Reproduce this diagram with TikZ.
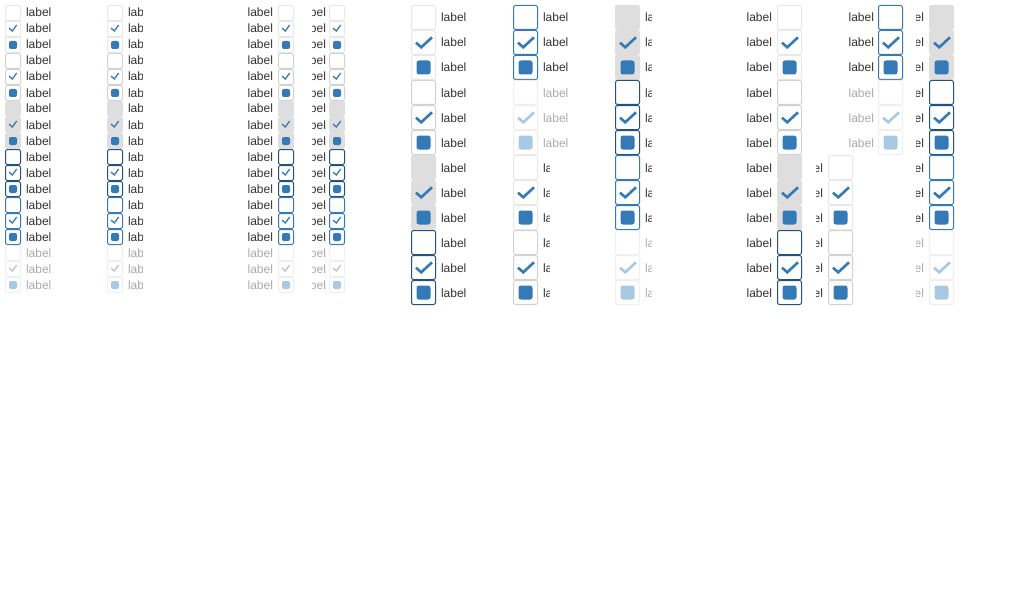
\documentclass[tikz,border=0pt]{standalone}
\usepackage{fontspec}
\setmainfont{Liberation Sans}
\definecolor{txt}{HTML}{333333}
\definecolor{txtdis}{HTML}{ABABAB}
\definecolor{bnorm}{HTML}{E8E8E8}
\definecolor{bhover}{HTML}{D2D2D2}
\definecolor{bact}{HTML}{DEDEDE}
\definecolor{bdark}{HTML}{23527C}
\definecolor{bblue}{HTML}{337AB7}
\definecolor{bdis}{HTML}{EFEFEF}
\definecolor{cblue}{HTML}{337AB7}
\definecolor{cdis}{HTML}{A9C9E3}
\def\bsl{24pt}\def\bss{15pt}
\newcommand\CB[6]{%
  \if x#5\colorlet{mcol}{cdis}\else\colorlet{mcol}{cblue}\fi
  \node[bx,st-#5,minimum size=\csname bs#2\endcsname] (#1) at (#3,#4) {};
  \if c#6\csname chk#2\endcsname{#1}\fi
  \if i#6\csname ind#2\endcsname{#1}\fi}
\newcommand\chkl[1]{\draw[mcol,line width=2.6pt] ([shift={(-7.5,0.2)}]#1.center) -- ([shift={(-2.2,4.8)}]#1.center) -- ([shift={(8.5,-5.2)}]#1.center);}
\newcommand\chks[1]{\draw[mcol,line width=1.3pt] ([shift={(-4,-1)}]#1.center) -- ([shift={(-0.7,2)}]#1.center) -- ([shift={(3.7,-4)}]#1.center);}
\newcommand\indl[1]{\node[fill=mcol,rounded corners=2.5pt,minimum size=14pt,inner sep=0pt,outer sep=0pt] (#1m) at (#1.center) {};}
\newcommand\inds[1]{\node[fill=mcol,rounded corners=2pt,minimum size=8pt,inner sep=0pt,outer sep=0pt] (#1m) at (#1.center) {};}
\newcommand\LB[5]{\node[lbl-#5,anchor=#2] (#1) at (#3,#4) {label};}
\newcommand\LBc[7]{\begin{scope}\clip ({#6},{#4-20}) rectangle ({#7},{#4+10});\node[lbl-#5,anchor=#2] (#1) at (#3,#4) {label};\end{scope}}
\begin{document}
\begin{tikzpicture}[x=1pt,y=-1pt,
  bx/.style={rectangle,rounded corners=2pt,line width=1pt,inner sep=0pt,outer sep=0pt},
  st-n/.style={draw=bnorm,fill=white},
  st-h/.style={draw=bhover,fill=white},
  st-a/.style={draw=bact,fill=bact},
  st-d/.style={draw=bdark,fill=white},
  st-b/.style={draw=bblue,fill=white},
  st-x/.style={draw=bdis,fill=white},
  lbl/.style={font=\fontsize{12}{14}\selectfont,inner sep=0pt,outer sep=0pt,text=txt},
  lbl-n/.style={lbl},lbl-h/.style={lbl},lbl-a/.style={lbl},
  lbl-d/.style={lbl},lbl-b/.style={lbl},lbl-x/.style={lbl,text=txtdis}]
\useasboundingbox[fill=white] (0,0) rectangle (1010,610);
% small checkboxes
\foreach \r in {0,...,17}{
  \pgfmathtruncatemacro\st{div(\r,3)}
  \pgfmathtruncatemacro\mk{mod(\r,3)}
  \pgfmathsetmacro\cy{13+16*\r}
  \pgfmathsetmacro\by{17+16*\r}
  \edef\S{\ifcase\st n\or h\or a\or d\or b\or x\fi}
  \edef\M{\ifcase\mk u\or c\or i\fi}
  \edef\doit{%
    \noexpand\CB{sa\r}{s}{13}{\cy}{\S}{\M}%
    \noexpand\LB{sla\r}{base west}{26}{\by}{\S}%
    \noexpand\CB{sb\r}{s}{115}{\cy}{\S}{\M}%
    \noexpand\LBc{slb\r}{base west}{128}{\by}{\S}{125}{142.5}%
    \noexpand\LB{slc\r}{base east}{273}{\by}{\S}%
    \noexpand\CB{sc\r}{s}{286}{\cy}{\S}{\M}%
    \noexpand\LBc{sld\r}{base east}{326}{\by}{\S}{312}{327}%
    \noexpand\CB{sd\r}{s}{337}{\cy}{\S}{\M}%
  }\doit
}
% large checkboxes
\foreach \r in {0,...,11}{
  \pgfmathtruncatemacro\q{div(\r,3)}
  \pgfmathtruncatemacro\mk{mod(\r,3)}
  \pgfmathsetmacro\cy{17.5+25*\r}
  \pgfmathsetmacro\by{22+25*\r}
  \pgfmathsetmacro\bclip{\r<6 ? 600 : 549}
  \pgfmathsetmacro\ex{\r<6 ? 890.5 : 840.5}
  \pgfmathsetmacro\elx{\r<6 ? 874 : 823}
  \pgfmathsetmacro\ecl{\r<6 ? 840 : 816}
  \edef\SA{\ifcase\q n\or h\or a\or d\fi}
  \edef\SB{\ifcase\q b\or x\or n\or h\fi}
  \edef\SC{\ifcase\q a\or d\or b\or x\fi}
  \edef\M{\ifcase\mk u\or c\or i\fi}
  \edef\doit{%
    \noexpand\CB{la\r}{l}{423.5}{\cy}{\SA}{\M}%
    \noexpand\LB{lla\r}{base west}{441}{\by}{\SA}%
    \noexpand\CB{lb\r}{l}{525.5}{\cy}{\SB}{\M}%
    \noexpand\LBc{llb\r}{base west}{543}{\by}{\SB}{540}{\bclip}%
    \noexpand\CB{lc\r}{l}{627.5}{\cy}{\SC}{\M}%
    \noexpand\LBc{llc\r}{base west}{645}{\by}{\SC}{642}{651}%
    \noexpand\LB{lld\r}{base east}{772}{\by}{\SA}%
    \noexpand\CB{ld\r}{l}{789.5}{\cy}{\SA}{\M}%
    \noexpand\LBc{lle\r}{base east}{\elx}{\by}{\SB}{\ecl}{\elx+2}%
    \noexpand\CB{le\r}{l}{\ex}{\cy}{\SB}{\M}%
    \noexpand\LBc{llf\r}{base east}{924}{\by}{\SC}{916}{926}%
    \noexpand\CB{lf\r}{l}{941.5}{\cy}{\SC}{\M}%
  }\doit
}
\end{tikzpicture}
\end{document}
